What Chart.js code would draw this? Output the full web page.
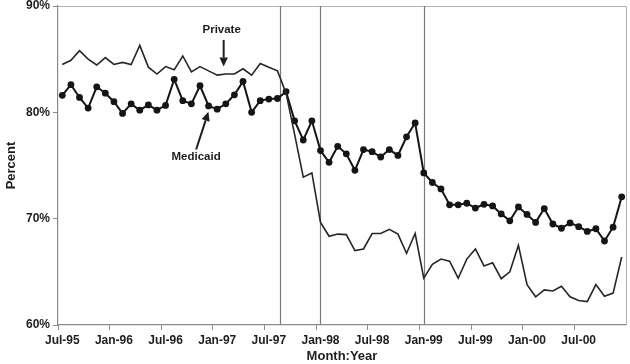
<!DOCTYPE html>
<html>
<head>
<meta charset="utf-8">
<script src="https://cdn.jsdelivr.net/npm/chart.js@4/dist/chart.umd.min.js"></script>
<style>
  html, body { margin: 0; padding: 0; background: #fff; }
  #wrap { width: 630px; height: 364px; }
</style>
</head>
<body>
<div id="wrap"><canvas id="chart" width="630" height="364"></canvas></div>
<script>
// Monthly categories, Jul-95 through Dec-00
const months = [
  'Jul-95','Aug-95','Sep-95','Oct-95','Nov-95','Dec-95',
  'Jan-96','Feb-96','Mar-96','Apr-96','May-96','Jun-96',
  'Jul-96','Aug-96','Sep-96','Oct-96','Nov-96','Dec-96',
  'Jan-97','Feb-97','Mar-97','Apr-97','May-97','Jun-97',
  'Jul-97','Aug-97','Sep-97','Oct-97','Nov-97','Dec-97',
  'Jan-98','Feb-98','Mar-98','Apr-98','May-98','Jun-98',
  'Jul-98','Aug-98','Sep-98','Oct-98','Nov-98','Dec-98',
  'Jan-99','Feb-99','Mar-99','Apr-99','May-99','Jun-99',
  'Jul-99','Aug-99','Sep-99','Oct-99','Nov-99','Dec-99',
  'Jan-00','Feb-00','Mar-00','Apr-00','May-00','Jun-00',
  'Jul-00','Aug-00','Sep-00','Oct-00','Nov-00','Dec-00'
];

// Percent by payer
const privateRates = [
  84.5, 84.9, 85.8, 85.0, 84.45, 85.15, 84.5, 84.7, 84.5, 86.3,
  84.25, 83.6, 84.3, 84.0, 85.3, 83.8, 84.3, 83.9, 83.5, 83.6,
  83.6, 84.1, 83.5, 84.6, 84.25, 83.9, 81.8, 77.9, 73.9, 74.3,
  69.65, 68.35, 68.55, 68.5, 67.0, 67.15, 68.6, 68.6, 69.0, 68.55,
  66.75, 68.6, 64.4, 65.7, 66.2, 66.0, 64.4, 66.2, 67.15, 65.55,
  65.85, 64.35, 65.0, 67.5, 63.8, 62.65, 63.3, 63.2, 63.65, 62.65,
  62.3, 62.2, 63.8, 62.7, 63.0, 66.4
];

const medicaidRates = [
  81.6, 82.6, 81.4, 80.4, 82.4, 81.8, 81.0, 79.9, 80.8, 80.2,
  80.7, 80.2, 80.65, 83.1, 81.1, 80.8, 82.5, 80.6, 80.3, 80.8,
  81.65, 82.9, 80.0, 81.1, 81.25, 81.3, 81.95, 79.2, 77.4, 79.2,
  76.4, 75.3, 76.8, 76.1, 74.55, 76.5, 76.3, 75.8, 76.5, 75.95,
  77.7, 79.0, 74.3, 73.4, 72.8, 71.3, 71.3, 71.45, 71.0, 71.35,
  71.2, 70.45, 69.8, 71.1, 70.4, 69.65, 70.95, 69.5, 69.1, 69.6,
  69.25, 68.8, 69.05, 67.9, 69.2, 72.05
];

// Y axis tick values (percent)
const yTicks = [60, 70, 80, 90];

// Months (offset from Jul-95) where the vertical reference lines sit
const eventMonths = [25.35, 30, 42];

const FONT = '"Liberation Sans", Arial, sans-serif';
const INK = '#1e1e1e';
const AXIS = '#8a8a8a';

// Convert a fractional month offset to a pixel on the category axis
function monthPixel(xs, m) {
  const p0 = xs.getPixelForValue(0);
  const p1 = xs.getPixelForValue(1);
  return p0 + (p1 - p0) * m;
}

function arrow(ctx, x1, y1, x2, y2) {
  const ang = Math.atan2(y2 - y1, x2 - x1);
  const len = 9, half = 4.2;
  const bx = x2 - Math.cos(ang) * len, by = y2 - Math.sin(ang) * len;
  ctx.beginPath();
  ctx.moveTo(x1, y1);
  ctx.lineTo(bx, by);
  ctx.stroke();
  ctx.beginPath();
  ctx.moveTo(x2, y2);
  ctx.lineTo(bx + Math.sin(ang) * half, by - Math.cos(ang) * half);
  ctx.lineTo(bx - Math.sin(ang) * half, by + Math.cos(ang) * half);
  ctx.closePath();
  ctx.fill();
}

const frameAndNotes = {
  id: 'frameAndNotes',
  beforeDatasetsDraw(chart) {
    const { ctx, chartArea: a, scales } = chart;
    ctx.save();
    // plot frame (top and right)
    ctx.strokeStyle = '#b4b4b4';
    ctx.lineWidth = 1;
    ctx.beginPath();
    ctx.moveTo(a.left, a.top + 0.5);
    ctx.lineTo(a.right + 0.5, a.top + 0.5);
    ctx.lineTo(a.right + 0.5, a.bottom);
    ctx.stroke();
    // event lines
    ctx.strokeStyle = '#7a7a7a';
    ctx.lineWidth = 1.2;
    eventMonths.forEach(m => {
      const x = Math.round(monthPixel(scales.x, m)) + 0.5;
      ctx.beginPath();
      ctx.moveTo(x, a.top);
      ctx.lineTo(x, a.bottom);
      ctx.stroke();
    });
    ctx.restore();
  },
  afterDatasetsDraw(chart) {
    const { ctx, scales } = chart;
    const xs = scales.x, ys = scales.y;
    ctx.save();
    ctx.fillStyle = INK;
    ctx.strokeStyle = INK;
    ctx.lineWidth = 2;
    ctx.font = 'bold 11.5px ' + FONT;
    ctx.textAlign = 'center';
    ctx.textBaseline = 'middle';

    // Private label and arrow
    const px = monthPixel(xs, 18.75);
    ctx.fillText('Private', px - 2, ys.getPixelForValue(87.73));
    arrow(ctx, px, ys.getPixelForValue(86.8), px, ys.getPixelForValue(84.3));

    // Medicaid label and arrow
    const mx = monthPixel(xs, 15.55);
    ctx.fillText('Medicaid', mx, ys.getPixelForValue(75.8));
    arrow(ctx, mx, ys.getPixelForValue(76.5),
          monthPixel(xs, 16.98), ys.getPixelForValue(80.05));
    ctx.restore();
  }
};

new Chart(document.getElementById('chart'), {
  type: 'line',
  data: {
    labels: months,
    datasets: [
      {
        label: 'Private',
        data: privateRates,
        borderColor: '#262626',
        borderWidth: 1.6,
        pointRadius: 0,
        tension: 0,
        fill: false
      },
      {
        label: 'Medicaid',
        data: medicaidRates,
        borderColor: '#151515',
        backgroundColor: '#151515',
        borderWidth: 2,
        pointRadius: 3.4,
        pointBorderWidth: 0,
        pointBackgroundColor: '#151515',
        tension: 0,
        fill: false
      }
    ]
  },
  options: {
    responsive: false,
    animation: false,
    devicePixelRatio: 1,
    layout: { padding: { top: 6, right: 1, left: 0, bottom: 0 } },
    plugins: {
      legend: { display: false },
      tooltip: { enabled: false }
    },
    scales: {
      x: {
        type: 'category',
        offset: true,
        afterFit(s) { s.height = 39; s.paddingLeft = 0; s.paddingRight = 0; },
        grid: {
          offset: true,
          drawOnChartArea: false,
          drawTicks: true,
          tickLength: 5,
          color: ctx => (ctx.index % 6 === 0 ? AXIS : 'rgba(0,0,0,0)')
        },
        border: { color: AXIS, width: 1.2 },
        ticks: {
          autoSkip: false,
          maxRotation: 0,
          minRotation: 0,
          padding: 3,
          color: INK,
          font: { family: FONT, size: 12, weight: 'bold' },
          callback(v, i) { return i % 6 === 0 ? months[i] : ''; }
        },
        title: {
          display: true,
          text: 'Month:Year',
          color: INK,
          font: { family: FONT, size: 13, weight: 'bold' },
          padding: { top: 0, bottom: 0 }
        }
      },
      y: {
        min: yTicks[0],
        max: yTicks[yTicks.length - 1],
        afterFit(s) { s.width = 58; s.paddingTop = 0; s.paddingBottom = 0; },
        afterBuildTicks(s) { s.ticks = yTicks.map(v => ({ value: v })); },
        grid: {
          drawOnChartArea: false,
          drawTicks: true,
          tickLength: 5,
          color: AXIS
        },
        border: { color: AXIS, width: 1.2 },
        ticks: {
          padding: 3,
          color: INK,
          font: { family: FONT, size: 12, weight: 'bold' },
          callback: v => v + '%'
        },
        title: {
          display: true,
          text: 'Percent',
          color: INK,
          font: { family: FONT, size: 13, weight: 'bold' },
          padding: { top: 4, bottom: 0 }
        }
      }
    }
  },
  plugins: [frameAndNotes]
});
</script>
</body>
</html>
